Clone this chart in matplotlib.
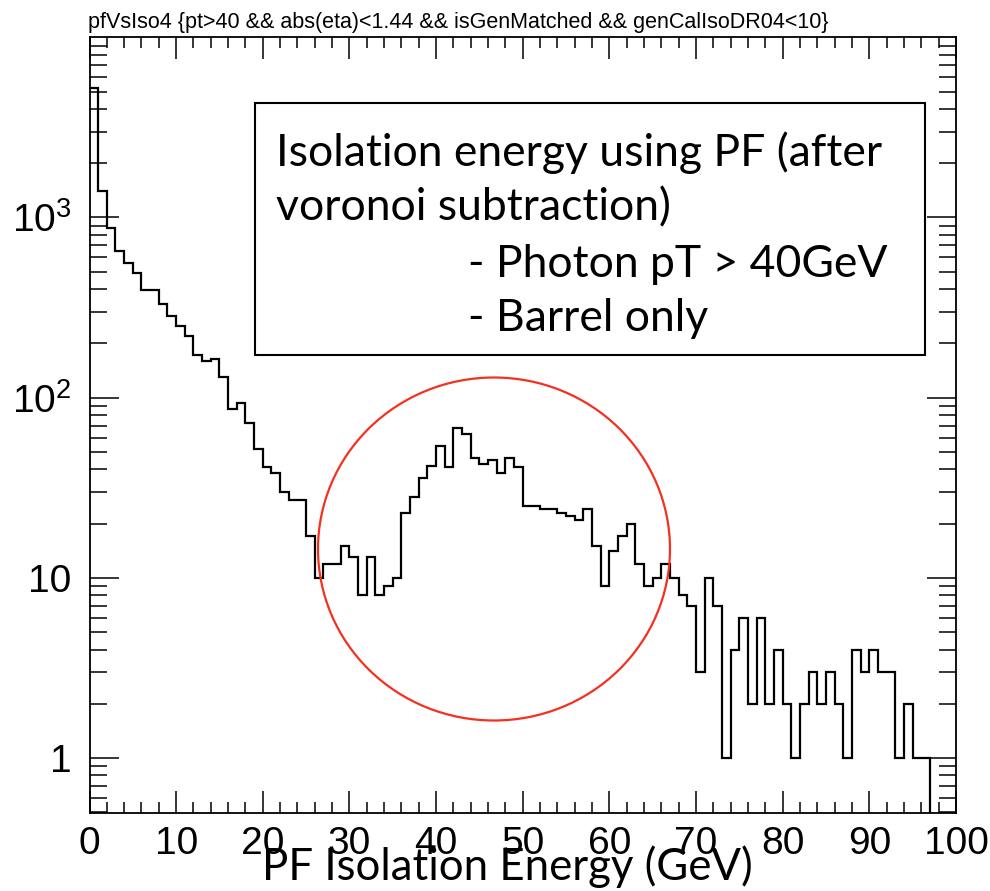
import numpy as np
import matplotlib.pyplot as plt
from matplotlib import font_manager
from matplotlib.patches import Ellipse, Rectangle
from matplotlib.ticker import FixedLocator, LogLocator, NullFormatter

# --- data: entries per 1 GeV bin --------------------------------------------
bin_edges = np.arange(0, 101, 1)
counts = np.array([
    5250, 1400, 877, 650, 560, 493, 398, 398, 329, 283,    # 0-9
    249, 219, 173, 159, 164, 131, 86, 93, 72, 52,          # 10-19
    41, 38, 30, 27, 27, 17, 10, 12, 12, 15,                # 20-29
    13, 8, 13, 8, 9, 10, 23, 28, 36, 42,                   # 30-39
    54, 41, 68, 63, 46, 43, 45, 38, 46, 41,                # 40-49
    25, 25, 24, 24, 23, 22, 21, 24, 15, 9,                 # 50-59
    14, 17, 20, 12, 9, 10, 12, 10, 8, 7,                   # 60-69
    3, 10, 7, 1, 4, 6, 2, 6, 2, 4,                         # 70-79
    2, 1, 2, 3, 2, 3, 2, 1, 4, 3,                          # 80-89
    4, 3, 3, 1, 2, 1, 1, 0, 0, 0,                          # 90-99
])

x_ticks = np.arange(0, 101, 10)
x_ticklabels = [str(v) for v in x_ticks]
y_ticks = [1, 10, 100, 1000]
y_ticklabels = ["1", "10", r"$\mathregular{10^{2}}$", r"$\mathregular{10^{3}}$"]

title = "pfVsIso4 {pt>40 && abs(eta)<1.44 && isGenMatched && genCalIsoDR04<10}"
box_lines = ["Isolation energy using PF (after",
             "voronoi subtraction)",
             "- Photon pT > 40GeV",
             "- Barrel only"]
x_title = "PF Isolation Energy (GeV)"

# --- fonts -----------------------------------------------------------------
installed = {f.name for f in font_manager.fontManager.ttflist}
root_font = "Liberation Sans Narrow" if "Liberation Sans Narrow" in installed else "Liberation Sans"
slide_font = "Lato"
plt.rcParams["font.family"] = [root_font, "DejaVu Sans"]
plt.rcParams["mathtext.fontset"] = "custom"
plt.rcParams["mathtext.rm"] = root_font

W, H = 990, 891


def fx(px):
    return px / W


def fy(py):
    return 1 - py / H


fig = plt.figure(figsize=(W / 100, H / 100), dpi=100)
ax = fig.add_axes([fx(89.5), fy(813), fx(956) - fx(89.5), fy(37.3) - fy(813)])

# zero bins fall below the log axis, ROOT just drops the line there
ax.stairs(np.clip(counts, 0.05, None), bin_edges, color="black", lw=1.6, baseline=None)

ax.set_yscale("log")
ax.set_xlim(0, 100)
ax.set_ylim(0.495, 1.0e4)

ax.xaxis.set_major_locator(FixedLocator(x_ticks))
ax.xaxis.set_minor_locator(FixedLocator(np.arange(0, 101, 2)))
ax.set_xticklabels(x_ticklabels)
ax.yaxis.set_major_locator(FixedLocator(y_ticks))
ax.yaxis.set_minor_locator(LogLocator(base=10, subs=np.arange(2, 10), numticks=20))
ax.yaxis.set_minor_formatter(NullFormatter())
ax.set_yticklabels(y_ticklabels)

for s in ax.spines.values():
    s.set_linewidth(1.3)
ax.tick_params(which="both", direction="in", top=True, right=True, width=1.1)
ax.tick_params(axis="x", which="major", length=16, pad=9, labelsize=28)
ax.tick_params(axis="x", which="minor", length=8)
ax.tick_params(axis="y", which="major", length=21, pad=13, labelsize=28)
ax.tick_params(axis="y", which="minor", length=12)

fig.text(fx(88), fy(28), title, ha="left", va="baseline", fontsize=15.5)

# slide annotations on top of the ROOT canvas
fig.add_artist(Rectangle((fx(255), fy(355)), fx(925) - fx(255), fy(103) - fy(355),
                         transform=fig.transFigure, fill=False, ec="black", lw=1.5))
box_pos = [(276, 166), (276, 220), (468, 277), (468, 331)]
for (px, py), line in zip(box_pos, box_lines):
    fig.text(fx(px), fy(py), line, family=slide_font, fontsize=32, ha="left", va="baseline")

fig.text(fx(507), fy(880), x_title, family=slide_font, fontsize=31.5, ha="center", va="baseline")

fig.add_artist(Ellipse((fx(494), fy(549)), 352 / W, 343 / H, transform=fig.transFigure,
                       fill=False, ec="#f4301f", lw=1.6))

fig.savefig("out.png", dpi=100)
